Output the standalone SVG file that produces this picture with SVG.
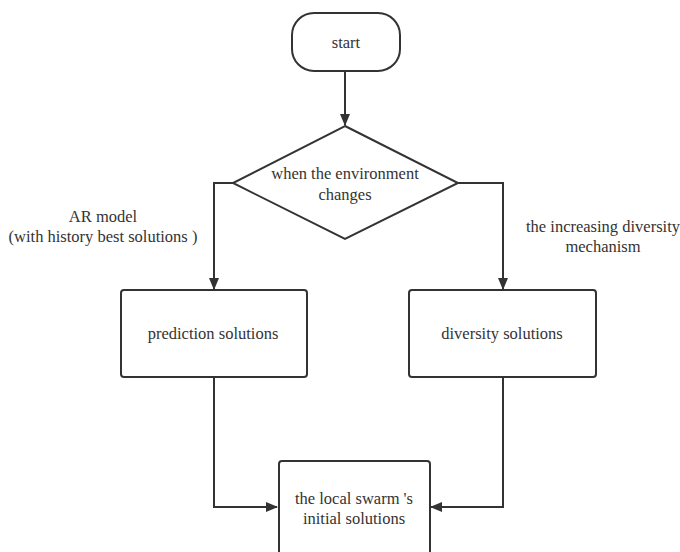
<svg xmlns="http://www.w3.org/2000/svg" width="680" height="552" viewBox="0 0 680 552">
<defs>
<marker id="ah" markerWidth="12" markerHeight="12" refX="11" refY="6" orient="auto" markerUnits="userSpaceOnUse">
<path d="M0,1 L12,6 L0,11 Z" fill="#333"/>
</marker>
<style>
.shape{fill:#fff;stroke:#333;stroke-width:2}
.conn{fill:none;stroke:#333;stroke-width:2;marker-end:url(#ah)}
.t{font-family:'Liberation Serif','DejaVu Serif',serif;font-size:16.5px;fill:#333;text-anchor:middle}
</style>
</defs>
<rect width="680" height="552" fill="#fff"/>
<g id="connectors">
<path class="conn" d="M345,71 L345,125"/>
<path class="conn" d="M233,183 L214,183 L214,289"/>
<path class="conn" d="M458,183 L503,183 L503,289"/>
<path class="conn" d="M214,378 L214,507 L277,507"/>
<path class="conn" d="M503,378 L503,507 L431,507"/>
</g>
<g id="start">
<rect class="shape" x="292" y="13" width="108" height="58" rx="22" ry="22"/>
<text class="t" x="346" y="48">start</text>
</g>
<g id="decision">
<polygon class="shape" points="345,126 458,183 345,239 233,183"/>
<text class="t" x="345" y="179">when the environment</text>
<text class="t" x="345" y="200">changes</text>
</g>
<g id="label-ar">
<text class="t" x="103" y="222">AR model</text>
<text class="t" x="103" y="242">(with history best solutions )</text>
</g>
<g id="label-div">
<text class="t" x="603" y="232">the increasing diversity</text>
<text class="t" x="603" y="252">mechanism</text>
</g>
<g id="prediction">
<rect class="shape" x="121" y="290" width="186" height="87" rx="3"/>
<text class="t" x="213" y="339">prediction solutions</text>
</g>
<g id="diversity">
<rect class="shape" x="409" y="290" width="187" height="87" rx="3"/>
<text class="t" x="502" y="339">diversity solutions</text>
</g>
<g id="initial">
<rect class="shape" x="279" y="461" width="151" height="110" rx="3"/>
<text class="t" x="354" y="504">the local swarm 's</text>
<text class="t" x="354" y="524">initial solutions</text>
</g>
</svg>
